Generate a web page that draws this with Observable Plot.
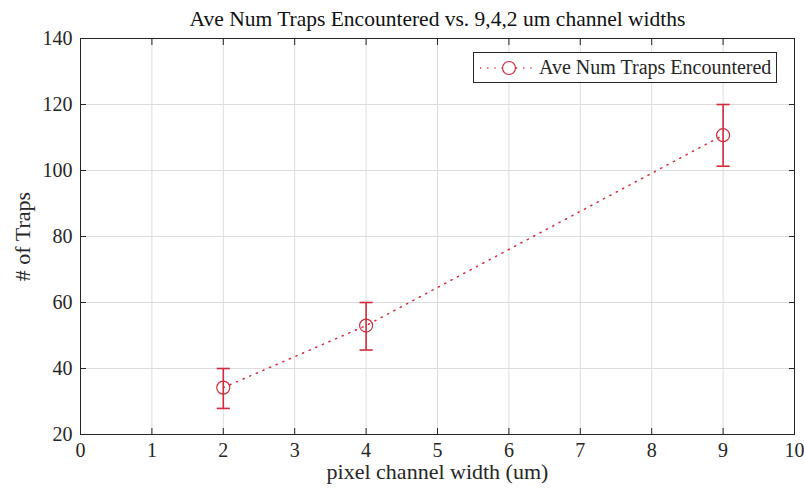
<!DOCTYPE html>
<html>
<head>
<meta charset="utf-8">
<script src="https://cdn.jsdelivr.net/npm/d3@7"></script>
<script src="https://cdn.jsdelivr.net/npm/@observablehq/plot@0.6"></script>
<style>
  body { margin: 0; background: #fff; }
  #wrap { position: relative; width: 804px; height: 495px; }
  #legend { position: absolute; left: 473px; top: 52px; width: 304px; height: 31px;
    border: 1px solid #262626; background: #fff; box-sizing: border-box;
    font-family: "Liberation Serif", serif; font-size: 20px; color: #262626;
    display: flex; align-items: center; white-space: nowrap; }
  #legend svg { margin-left: 4px; margin-right: 5px; }
</style>
</head>
<body>
<div id="wrap"></div>
<script>
const widths = [2, 4, 9];
const aveTraps = [34.2, 53.0, 110.7];
const errLow = [27.9, 45.6, 101.3];
const errHigh = [40.0, 60.0, 120.0];
const xTicks = [0, 1, 2, 3, 4, 5, 6, 7, 8, 9, 10];
const yTicks = [20, 40, 60, 80, 100, 120, 140];
const titleText = "Ave Num Traps Encountered vs. 9,4,2 um channel widths";
const seriesName = "Ave Num Traps Encountered";
const red = "#d42a3c";

const data = widths.map((w, i) => ({x: w, y: aveTraps[i], lo: errLow[i], hi: errHigh[i]}));

const capSymbol = {
  draw(context, size) {
    const w = Math.sqrt(size);
    context.moveTo(-w, 0);
    context.lineTo(w, 0);
  }
};

const font = "Liberation Serif, Times New Roman, serif";
const chart = Plot.plot({
  width: 804,
  height: 495,
  marginLeft: 80,
  marginRight: 10,
  marginTop: 38,
  marginBottom: 61,
  style: {fontFamily: font, fontSize: "20px", color: "#262626", background: "#fff"},
  x: {type: "linear", domain: [0, 10], ticks: xTicks},
  y: {type: "linear", domain: [20, 140], ticks: yTicks},
  marks: [
    Plot.gridX(xTicks, {stroke: "#dcdcdc", strokeOpacity: 1}),
    Plot.gridY(yTicks, {stroke: "#dcdcdc", strokeOpacity: 1}),
    Plot.axisX(xTicks, {anchor: "bottom", tickSize: -6, tickPadding: 14, fontSize: 20, label: "pixel channel width (um)", labelAnchor: "center", labelArrow: "none", labelOffset: 44, stroke: "#262626"}),
    Plot.axisX(xTicks, {anchor: "top", tickSize: -6, text: null, label: null, stroke: "#262626"}),
    Plot.axisY(yTicks, {anchor: "left", tickSize: -6, tickPadding: 14, fontSize: 20, label: "# of Traps", labelAnchor: "center", labelArrow: "none", labelOffset: 66, stroke: "#262626"}),
    Plot.axisY(yTicks, {anchor: "right", tickSize: -6, text: null, label: null, stroke: "#262626"}),
    Plot.frame({stroke: "#262626", strokeWidth: 1}),
    Plot.line(data, {x: "x", y: "y", stroke: red, strokeWidth: 1.5, strokeDasharray: "1.2,6"}),
    Plot.ruleX(data, {x: "x", y1: "lo", y2: "hi", stroke: red, strokeWidth: 1.6}),
    Plot.dot(data, {x: "x", y: "lo", symbol: capSymbol, r: 3.7, stroke: red, strokeWidth: 1.6, fill: "none"}),
    Plot.dot(data, {x: "x", y: "hi", symbol: capSymbol, r: 3.7, stroke: red, strokeWidth: 1.6, fill: "none"}),
    Plot.dot(data, {x: "x", y: "y", r: 6.5, stroke: red, strokeWidth: 1.2, fill: "none"}),
    Plot.text([titleText], {frameAnchor: "top", dy: -28, fontSize: 21.5, fill: "#111"})
  ]
});
const wrap = document.getElementById("wrap");
wrap.appendChild(chart);
chart.querySelectorAll("g[aria-label='y-axis label'] text, g[aria-label='x-axis label'] text").forEach(t => t.setAttribute("font-size", "22"));

const legend = document.createElement("div");
legend.id = "legend";
legend.innerHTML = `<svg width="56" height="20"><line x1="2" y1="10" x2="54" y2="10" stroke="${red}" stroke-width="1.5" stroke-dasharray="1.2,6"/><circle cx="31" cy="10" r="6.5" fill="#fff" stroke="${red}" stroke-width="1.2"/></svg><span></span>`;
legend.querySelector("span").textContent = seriesName;
wrap.appendChild(legend);
</script>
</body>
</html>
